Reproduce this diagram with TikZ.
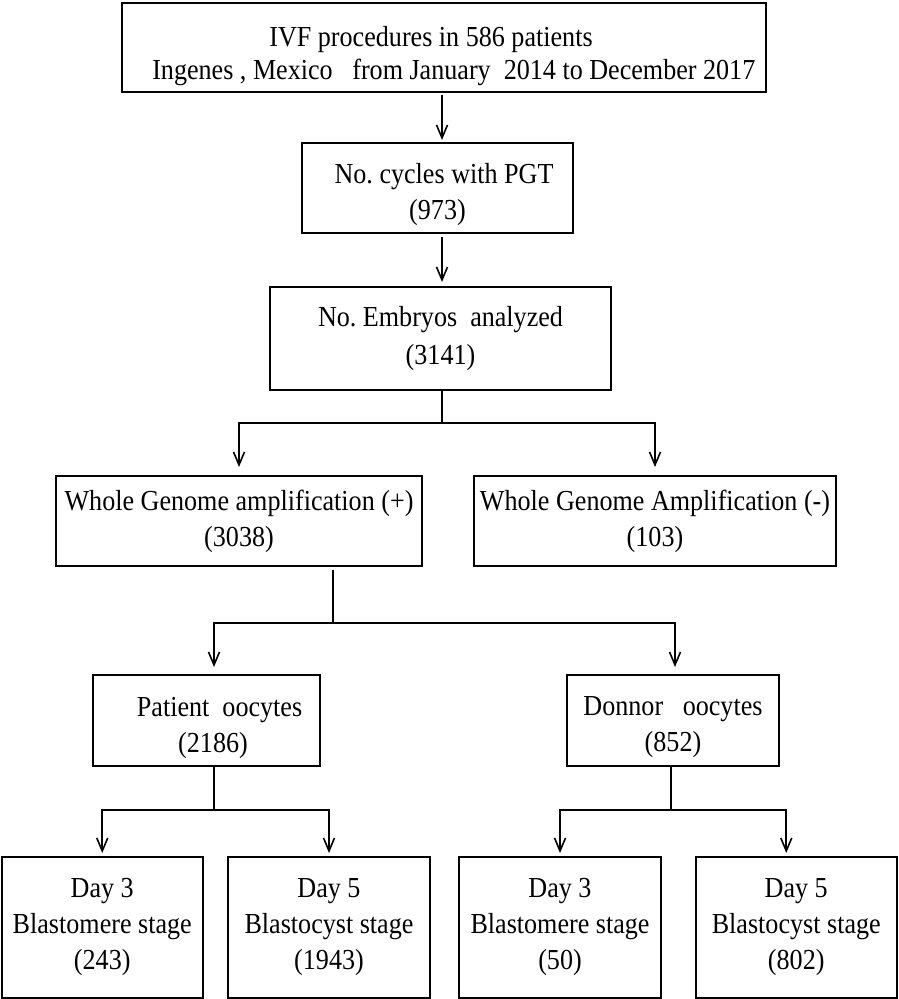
\documentclass[tikz,border=0pt]{standalone}
\usepackage{fontspec}
\setmainfont{Liberation Serif}[FakeStretch=0.9]
\usetikzlibrary{arrows.meta}
\begin{document}
\begin{tikzpicture}[x=0.5pt, y=-0.5pt,
		box/.style={draw, line width=1pt, align=center, inner sep=0pt, outer sep=0pt, font=\fontsize{14.5}{18}\selectfont},
		linie/.style={line width=0.8pt},
		pfeil/.style={line width=0.8pt, -{Straight Barb[length=6.5pt, width=5.5pt, line width=0.8pt]}}]
		\useasboundingbox (0,0) rectangle (898,999);
		%oben
		\node[box, minimum width=322pt, minimum height=44.5pt] (ivf) at (444,47.5) {\rule{0pt}{19pt}IVF procedures in 586 patients\hspace*{13pt}\\[-1.5pt]\ \ \ Ingenes , Mexico\ \ \ from January\ \ 2014 to December 2017};
		\node[box, minimum width=135.5pt, minimum height=45pt] (cycles) at (437.5,188) {\rule{0pt}{17pt}\ \ No.\ cycles with PGT\\(973)};
		\node[box, minimum width=170.5pt, minimum height=51.5pt] (embryos) at (440.5,338.5) {No.\ Embryos\ \ analyzed\\[1pt](3141)};
		%mitte
		\node[box, minimum width=183pt, minimum height=45pt] (wgaplus) at (239,521) {Whole Genome amplification (+)\\(3038)};
		\node[box, minimum width=181pt, minimum height=45pt] (wgaminus) at (655,521) {Whole Genome Amplification (-)\\(103)};
		\node[box, minimum width=113.5pt, minimum height=45.5pt] (patient) at (206.5,720.5) {\rule{0pt}{17pt}\ \ \ \ Patient\ \ oocytes\\\ \ (2186)};
		\node[box, minimum width=106pt, minimum height=45.5pt] (donor) at (673,720.5) {\rule{0pt}{16pt}Donnor\ \ \ oocytes\\(852)};
		%unten
		\node[box, minimum width=100.75pt, minimum height=70.25pt] (d3p) at (102.25,927.25) {Day 3\\Blastomere stage\\(243)};
		\node[box, minimum width=101pt, minimum height=70.25pt] (d5p) at (329,927.25) {Day 5\\Blastocyst stage\\(1943)};
		\node[box, minimum width=101pt, minimum height=70.25pt] (d3d) at (560,927.25) {Day 3\\Blastomere stage\\(50)};
		\node[box, minimum width=100.25pt, minimum height=70.25pt] (d5d) at (796.25,927.25) {Day 5\\Blastocyst stage\\(802)};
		%verzweigungen
		\coordinate (s1) at (442,423);
		\coordinate (s2) at (333,623);
		\coordinate (s3) at (214,810);
		\coordinate (s4) at (671,810);
		%pfeile
		\draw[pfeil, shorten <=1.5pt, shorten >=1.5pt] (ivf.south -| 442,0) -- (cycles.north -| 442,0);
		\draw[pfeil, shorten <=2pt, shorten >=2.5pt] (cycles.south -| 442,0) -- (embryos.north -| 442,0);
		\draw[linie] (embryos.south -| s1) -- (s1);
		\draw[pfeil, shorten >=4.5pt] (s1) -| (wgaplus.north);
		\draw[pfeil, shorten >=4.5pt] (s1) -| (wgaminus.north);
		\draw[linie, shorten <=2pt] (wgaplus.south -| s2) -- (s2);
		\draw[pfeil, shorten >=4pt] (s2) -| ([xshift=3.75pt]patient.north);
		\draw[pfeil, shorten >=4pt] (s2) -| ([xshift=1pt]donor.north);
		\draw[linie] (patient.south -| s3) -- (s3);
		\draw[pfeil, shorten >=2pt] (s3) -| (d3p.north);
		\draw[pfeil, shorten >=2pt] (s3) -| (d5p.north);
		\draw[linie] (donor.south -| s4) -- (s4);
		\draw[pfeil, shorten >=2pt] (s4) -| (d3d.north);
		\draw[pfeil, shorten >=2pt] (s4) -| ([xshift=-5pt]d5d.north);
	\end{tikzpicture}
\end{document}
